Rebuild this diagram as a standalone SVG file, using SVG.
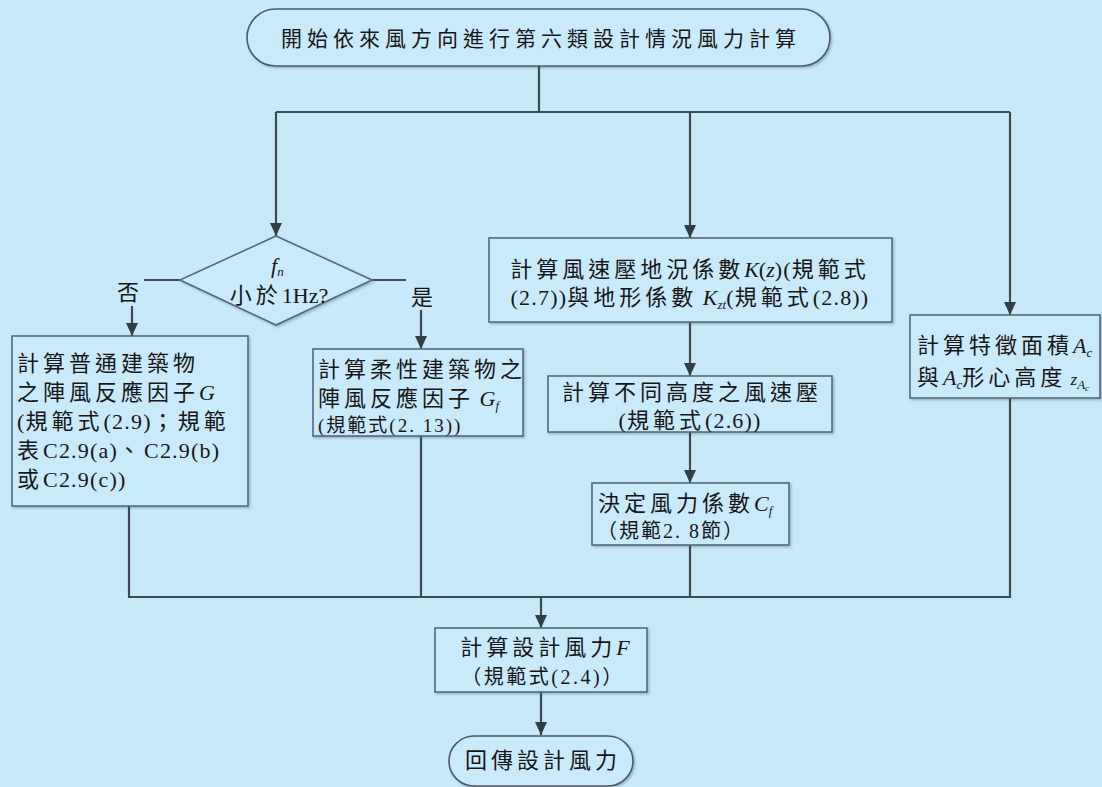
<svg xmlns="http://www.w3.org/2000/svg" width="1102" height="787" viewBox="0 0 1102 787">
<style>
.bg{fill:#c8e9fa}
.box{fill:#c9eafb;stroke:#56697a;stroke-width:1.6;filter:url(#sh)}
.term{fill:#c9eafb;stroke:#4c5a66;stroke-width:1.6;filter:url(#sh)}
.cn{fill:none;stroke:#3e4a54;stroke-width:2.2}
.t{font-family:"Liberation Serif","Noto Sans CJK TC",serif;font-size:22px;fill:#161616}
.c{letter-spacing:4px}
.l{letter-spacing:1.2px}
.i{font-style:italic}
.s{font-size:13px}
.sm{font-size:19px}
.lab{fill:#c8e9fa}
</style>
<defs>
<filter id="sh" x="-5%" y="-5%" width="110%" height="115%">
<feDropShadow dx="1.5" dy="1.5" stdDeviation="1" flood-color="#2a3a48" flood-opacity="0.3"/>
</filter>
<marker id="ar" markerUnits="userSpaceOnUse" markerWidth="14" markerHeight="12" refX="13" refY="6" orient="auto">
<path d="M0,0 L13,6 L0,12 z" fill="#333d45"/>
</marker>
</defs>
<rect class="bg" x="0" y="0" width="1102" height="787"/>

<g id="connectors">
<path class="cn" d="M539,66 V112"/>
<path class="cn" d="M276,112 H1010"/>
<path class="cn" d="M276,112 V236" marker-end="url(#ar)"/>
<path class="cn" d="M690,112 V238" marker-end="url(#ar)"/>
<path class="cn" d="M1010,112 V315" marker-end="url(#ar)"/>
<path class="cn" d="M180,280 H132 V336" marker-end="url(#ar)"/>
<rect class="lab" x="114" y="268" width="30" height="38"/>
<text class="t c" x="130" y="300" text-anchor="middle">否</text>
<path class="cn" d="M372,280 H421 V349" marker-end="url(#ar)"/>
<rect class="lab" x="406" y="272" width="32" height="38"/>
<text class="t c" x="424" y="305" text-anchor="middle">是</text>
<path class="cn" d="M690,322 V376" marker-end="url(#ar)"/>
<path class="cn" d="M690,432 V483" marker-end="url(#ar)"/>
<path class="cn" d="M129,506 V597 H1010 V398"/>
<path class="cn" d="M421,436 V597"/>
<path class="cn" d="M690,545 V597"/>
<path class="cn" d="M541,597 V628" marker-end="url(#ar)"/>
<path class="cn" d="M541,692 V735" marker-end="url(#ar)"/>
</g>

<g id="start">
<rect class="term" x="247" y="9" width="583" height="57" rx="28.5"/>
<text class="t" x="541" y="46" text-anchor="middle" style="font-size:21px;letter-spacing:5px">開始依來風方向進行第六類設計情況風力計算</text>
</g>

<g id="decision">
<polygon class="box" points="276,236 372,280 276,325 180,280"/>
<text class="t" x="271" y="273"><tspan class="i">f</tspan><tspan class="i s" dy="3">n</tspan></text>
<text class="t" x="279" y="303" text-anchor="middle"><tspan class="c">小於</tspan><tspan>1Hz?</tspan></text>
</g>

<g id="gust-normal">
<rect class="box" x="12" y="336" width="236" height="170"/>
<text class="t" x="17" y="371"><tspan class="c">計算普通建築物</tspan></text>
<text class="t" x="17" y="400"><tspan class="c">之陣風反應因子</tspan><tspan class="i">G</tspan></text>
<text class="t" x="17" y="429"><tspan class="l">(</tspan><tspan class="c">規範式</tspan><tspan class="l">(2.9)</tspan><tspan class="c">；規範</tspan></text>
<text class="t" x="17" y="458"><tspan class="c">表</tspan><tspan class="l">C2.9(a)</tspan><tspan class="c">、</tspan><tspan class="l">C2.9(b)</tspan></text>
<text class="t" x="17" y="487"><tspan class="c">或</tspan><tspan class="l">C2.9(c))</tspan></text>
</g>

<g id="gust-flexible">
<rect class="box" x="313" y="349" width="210" height="87"/>
<text class="t" x="318" y="377"><tspan class="c">計算柔性建築物之</tspan></text>
<text class="t" x="318" y="406"><tspan class="c">陣風反應因子</tspan><tspan class="i"> G</tspan><tspan class="i s" dy="4">f</tspan></text>
<text class="t sm" x="318" y="432" style="letter-spacing:2px">(規範式(2. 13))</text>
</g>

<g id="kz">
<rect class="box" x="489" y="238" width="403" height="84"/>
<text class="t" x="690" y="277" text-anchor="middle"><tspan class="c">計算風速壓地況係數</tspan><tspan class="i">K</tspan><tspan>(</tspan><tspan class="i">z</tspan><tspan class="l">)(</tspan><tspan class="c">規範式</tspan></text>
<text class="t" x="690" y="305" text-anchor="middle"><tspan class="l">(2.7))</tspan><tspan class="c">與地形係數</tspan><tspan class="i"> K</tspan><tspan class="i s" dy="4">zt</tspan><tspan class="l" dy="-4">(</tspan><tspan class="c">規範式</tspan><tspan class="l">(2.8))</tspan></text>
</g>

<g id="pressure">
<rect class="box" x="548" y="376" width="284" height="56"/>
<text class="t" x="692" y="400" text-anchor="middle"><tspan class="c">計算不同高度之風速壓</tspan></text>
<text class="t" x="690" y="428" text-anchor="middle"><tspan class="l">(</tspan><tspan class="c">規範式</tspan><tspan class="l">(2.6))</tspan></text>
</g>

<g id="cf">
<rect class="box" x="592" y="483" width="197" height="62"/>
<text class="t" x="598" y="511"><tspan class="c">決定風力係數</tspan><tspan class="i">C</tspan><tspan class="i s" dy="4">f</tspan></text>
<text class="t" x="597" y="538" style="font-size:20px;letter-spacing:2px">（規範2. 8節）</text>
</g>

<g id="area">
<rect class="box" x="910" y="315" width="190" height="83"/>
<text class="t" x="917" y="353"><tspan class="c">計算特徵面積</tspan><tspan class="i">A</tspan><tspan class="i s" dy="4">c</tspan></text>
<text class="t" x="917" y="385"><tspan class="c">與</tspan><tspan class="i">A</tspan><tspan class="i s" dy="4">c</tspan><tspan class="c" dy="-4">形心高度</tspan><tspan class="i" style="font-size:17px"> z</tspan><tspan class="i s" dy="4">A</tspan><tspan class="i" style="font-size:9px" dy="2">c</tspan></text>
</g>

<g id="force">
<rect class="box" x="435" y="628" width="212" height="64"/>
<text class="t" x="545" y="655" text-anchor="middle"><tspan class="c">計算設計風力</tspan><tspan class="i">F</tspan></text>
<text class="t" x="543" y="684" text-anchor="middle" style="font-size:20px;letter-spacing:2.5px">（規範式(2.4)）</text>
</g>

<g id="end">
<rect class="term" x="449" y="736" width="184" height="50" rx="25"/>
<text class="t c" x="543" y="768" text-anchor="middle">回傳設計風力</text>
</g>
</svg>
